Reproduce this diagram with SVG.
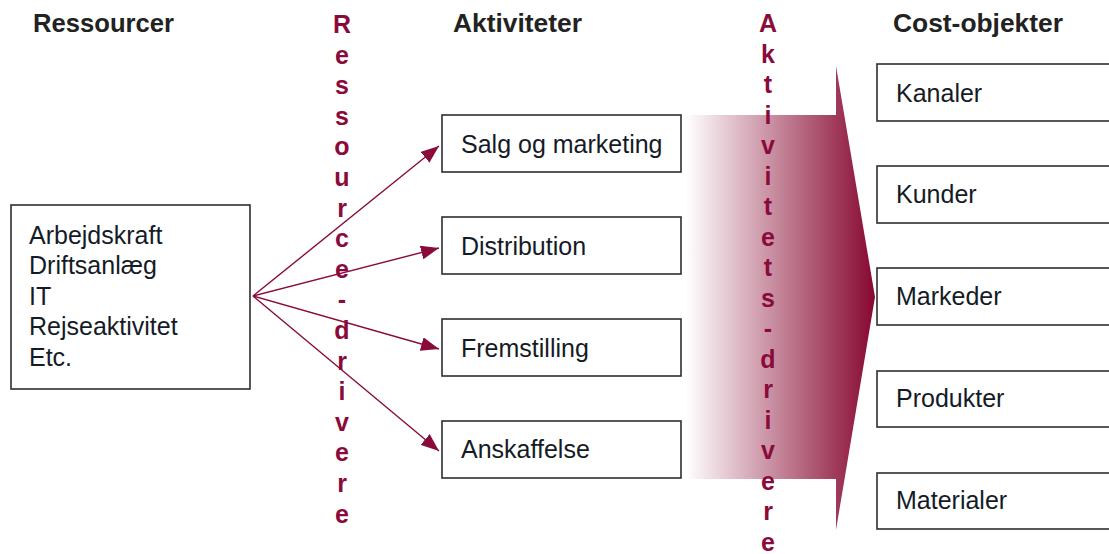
<svg xmlns="http://www.w3.org/2000/svg" width="1109" height="554" viewBox="0 0 1109 554">
  <style>
    .box { fill: #ffffff; stroke: #2e2e2e; stroke-width: 1.6; }
    .lbl { font-family: "Liberation Sans", Arial, sans-serif; font-size: 25px; fill: #151b26; }
    .hdr { font-family: "Liberation Sans", Arial, sans-serif; font-size: 25px; font-weight: bold; fill: #222222; }
    .drv { font-family: "Liberation Sans", Arial, sans-serif; font-size: 25px; font-weight: bold; fill: #8a0b3b; text-anchor: middle; }
    .link { stroke: #8a0b3b; stroke-width: 1.4; fill: none; }
  </style>
  <defs>
    <linearGradient id="flow" gradientUnits="userSpaceOnUse" x1="686" y1="0" x2="876" y2="0">
      <stop offset="0" stop-color="#ffffff"/>
      <stop offset="1" stop-color="#86062f"/>
    </linearGradient>
    <marker id="headL" viewBox="0 0 18 14" refX="18" refY="7" markerWidth="18" markerHeight="14" markerUnits="userSpaceOnUse" orient="auto">
      <path d="M0,0 L18,7 L0,14 z" fill="#8a0b3b"/>
    </marker>
  </defs>

  <!-- column headings -->
  <text class="hdr" x="33" y="32" textLength="141" lengthAdjust="spacingAndGlyphs">Ressourcer</text>
  <text class="hdr" x="453" y="32" textLength="129" lengthAdjust="spacingAndGlyphs">Aktiviteter</text>
  <text class="hdr" x="893" y="32" textLength="170" lengthAdjust="spacingAndGlyphs">Cost-objekter</text>

  <!-- broad flow arrow from activities to cost objects -->
  <g id="activity-flow">
    <path d="M686,115 L836,115 L836,66 L875,297 L836,530 L836,479 L686,479 z" fill="url(#flow)"/>
  </g>

  <!-- vertical driver labels -->
  <g id="resource-drivers">
    <text class="drv" x="342" y="33">R</text>
    <text class="drv" x="342" y="63.6">e</text>
    <text class="drv" x="342" y="94.2">s</text>
    <text class="drv" x="342" y="124.8">s</text>
    <text class="drv" x="342" y="155.4">o</text>
    <text class="drv" x="342" y="186">u</text>
    <text class="drv" x="342" y="216.6">r</text>
    <text class="drv" x="342" y="247.2">c</text>
    <text class="drv" x="342" y="277.8">e</text>
    <text class="drv" x="342" y="308.4">-</text>
    <text class="drv" x="342" y="339">d</text>
    <text class="drv" x="342" y="369.6">r</text>
    <text class="drv" x="342" y="400.2">i</text>
    <text class="drv" x="342" y="430.8">v</text>
    <text class="drv" x="342" y="461.4">e</text>
    <text class="drv" x="342" y="492">r</text>
    <text class="drv" x="342" y="522.6">e</text>
  </g>
  <g id="activity-drivers">
    <text class="drv" x="768" y="32">A</text>
    <text class="drv" x="768" y="62.5">k</text>
    <text class="drv" x="768" y="93">t</text>
    <text class="drv" x="768" y="123.5">i</text>
    <text class="drv" x="768" y="154">v</text>
    <text class="drv" x="768" y="184.5">i</text>
    <text class="drv" x="768" y="215">t</text>
    <text class="drv" x="768" y="245.5">e</text>
    <text class="drv" x="768" y="276">t</text>
    <text class="drv" x="768" y="306.5">s</text>
    <text class="drv" x="768" y="337">-</text>
    <text class="drv" x="768" y="367.5">d</text>
    <text class="drv" x="768" y="398">r</text>
    <text class="drv" x="768" y="428.5">i</text>
    <text class="drv" x="768" y="459">v</text>
    <text class="drv" x="768" y="489.5">e</text>
    <text class="drv" x="768" y="520">r</text>
    <text class="drv" x="768" y="550.5">e</text>
  </g>

  <!-- resource drivers: connectors -->
  <g id="connectors">
    <line class="link" x1="253" y1="296" x2="439" y2="146" marker-end="url(#headL)"/>
    <line class="link" x1="253" y1="296" x2="439" y2="248" marker-end="url(#headL)"/>
    <line class="link" x1="253" y1="296" x2="439" y2="349" marker-end="url(#headL)"/>
    <line class="link" x1="253" y1="296" x2="439" y2="451" marker-end="url(#headL)"/>
  </g>

  <!-- resources -->
  <g id="resources">
    <rect class="box" x="11" y="205" width="239" height="184"/>
    <text class="lbl" x="29" y="243.5">Arbejdskraft</text>
    <text class="lbl" x="29" y="274">Driftsanlæg</text>
    <text class="lbl" x="29" y="304.5">IT</text>
    <text class="lbl" x="29" y="335">Rejseaktivitet</text>
    <text class="lbl" x="29" y="365.5">Etc.</text>
  </g>

  <!-- activities -->
  <g id="act-salg">
    <rect class="box" x="442" y="115" width="239" height="57"/>
    <text class="lbl" x="461" y="153">Salg og marketing</text>
  </g>
  <g id="act-distribution">
    <rect class="box" x="442" y="217" width="239" height="57"/>
    <text class="lbl" x="461" y="255">Distribution</text>
  </g>
  <g id="act-fremstilling">
    <rect class="box" x="442" y="319" width="239" height="57"/>
    <text class="lbl" x="461" y="357">Fremstilling</text>
  </g>
  <g id="act-anskaffelse">
    <rect class="box" x="442" y="421" width="239" height="57"/>
    <text class="lbl" x="461" y="458">Anskaffelse</text>
  </g>

  <!-- cost objects -->
  <g id="obj-kanaler">
    <rect class="box" x="877" y="64" width="240" height="57"/>
    <text class="lbl" x="896" y="102">Kanaler</text>
  </g>
  <g id="obj-kunder">
    <rect class="box" x="877" y="166" width="240" height="57"/>
    <text class="lbl" x="896" y="203">Kunder</text>
  </g>
  <g id="obj-markeder">
    <rect class="box" x="877" y="268" width="240" height="57"/>
    <text class="lbl" x="896" y="305">Markeder</text>
  </g>
  <g id="obj-produkter">
    <rect class="box" x="877" y="371" width="240" height="56"/>
    <text class="lbl" x="896" y="407">Produkter</text>
  </g>
  <g id="obj-materialer">
    <rect class="box" x="877" y="473" width="240" height="56"/>
    <text class="lbl" x="896" y="509">Materialer</text>
  </g>
</svg>
